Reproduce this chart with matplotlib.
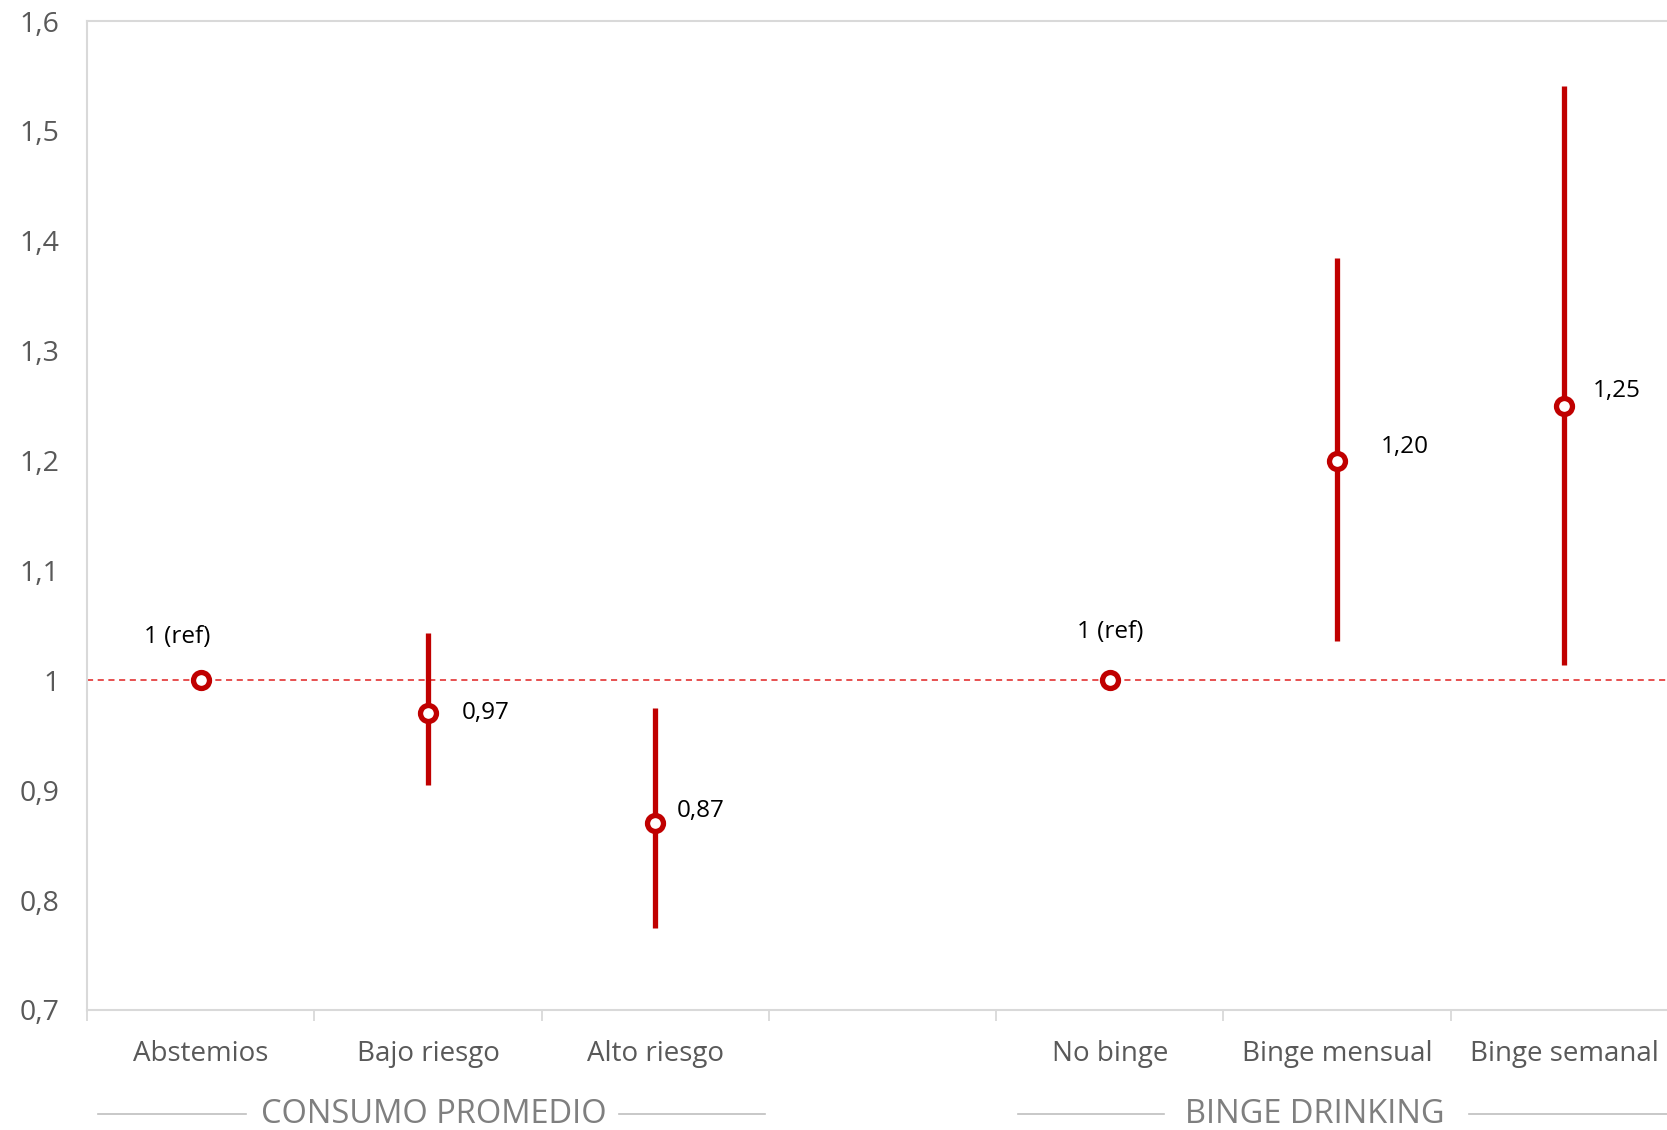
import matplotlib.pyplot as plt
import numpy as np

plt.rcParams['font.family'] = ['Open Sans', 'DejaVu Sans']

# Data
categories = ['Abstemios', 'Bajo riesgo', 'Alto riesgo', '', 'No binge', 'Binge mensual', 'Binge semanal']
values = [1.00, 0.97, 0.87, None, 1.00, 1.20, 1.25]
lower = [None, 0.905, 0.775, None, None, 1.036, 1.014]
upper = [None, 1.043, 0.975, None, None, 1.384, 1.541]
labels = ['1 (ref)', '0,97', '0,87', '', '1 (ref)', '1,20', '1,25']
groups = ['CONSUMO PROMEDIO', 'BINGE DRINKING']
yticks = [0.7, 0.8, 0.9, 1.0, 1.1, 1.2, 1.3, 1.4, 1.5, 1.6]

red = '#c00000'
grey_txt = '#595959'
grey_line = '#d9d9d9'

fig = plt.figure(figsize=(16.67, 11.30), dpi=100)
# plot area runs slightly past the right edge of the picture, like the original
ax = fig.add_axes([0.0522, 0.1062, 0.9544, 0.8752])

x = np.arange(len(categories))

# reference line at 1
ax.axhline(1.0, color='#e02020', lw=1.1, ls=(0, (4, 3)), zorder=1)

# confidence intervals
for i in range(len(categories)):
    if lower[i] is not None:
        ax.plot([x[i], x[i]], [lower[i], upper[i]], color=red, lw=3.8,
                solid_capstyle='butt', zorder=2)

# point estimates
for i in range(len(categories)):
    if values[i] is not None:
        ax.plot(x[i], values[i], 'o', ms=11.5, mfc='white', mec=red, mew=3.8, zorder=3)

# data labels (offset in pixels)
offsets = [(-23, 43, 'center'), (34, 0, 'left'), (22, 12, 'left'), None,
           (0, 48, 'center'), (44, 14, 'left'), (28, 15, 'left')]
for i, off in enumerate(offsets):
    if off is None:
        continue
    ax.annotate(labels[i], (x[i], values[i]), xytext=(off[0], off[1]),
                textcoords='offset pixels', ha=off[2], va='center',
                fontsize=17.5, color='black')

ax.set_xlim(-0.5, len(categories) - 0.5)
ax.set_ylim(0.7, 1.6)
ax.set_yticks(yticks)
ax.set_yticklabels([('%.1f' % v).replace('.', ',') if v != 1.0 else '1' for v in yticks])
ax.tick_params(axis='y', length=0, pad=20, labelsize=20.5, labelcolor=grey_txt)

ax.set_xticks(np.arange(-0.5, len(categories), 1.0))
ax.set_xticklabels([])
ax.tick_params(axis='x', length=8, width=1.3, color=grey_line, direction='out')
for i, c in enumerate(categories):
    ax.text(x[i], -0.045, c, transform=ax.get_xaxis_transform(), ha='center', va='center',
            fontsize=20, color=grey_txt)

for s in ['left', 'top', 'bottom']:
    ax.spines[s].set_color(grey_line)
    ax.spines[s].set_linewidth(1.5)
ax.spines['right'].set_visible(False)

# group labels below the categories (cut by the bottom edge, as in the original)
trans = ax.get_xaxis_transform()
group_y = -0.1056
group_text_x = [1.025, 4.90]
group_lines = [[(-0.45, 0.20), (1.84, 2.485)], [(3.594, 4.24), (5.58, 6.6)]]
for g, gx, segs in zip(groups, group_text_x, group_lines):
    ax.text(gx, group_y, g, transform=trans, ha='center', va='center',
            fontsize=23.5, color='#7f7f7f', clip_on=False)
    for a, b in segs:
        ax.plot([a, b], [group_y, group_y], transform=trans, color='#bfbfbf',
                lw=1.2, clip_on=False)

fig.savefig('out.png', dpi=100)
